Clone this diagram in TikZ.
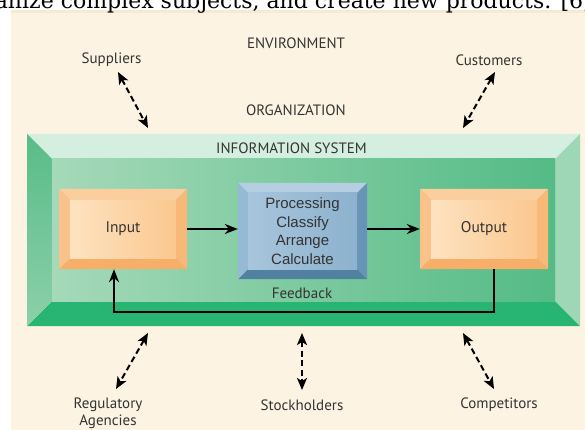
\documentclass[tikz,border=0pt]{standalone}
\usepackage{fontspec}
\setmainfont{PT Sans}
\newfontfamily\arialf{Liberation Sans}
\newfontfamily\serff{DejaVu Serif}
\usetikzlibrary{arrows.meta}
\definecolor{cream}{HTML}{FCF3E3}
\definecolor{creamband}{HTML}{FAE9D2}
\definecolor{txt}{HTML}{333333}
\tikzset{
  gT/.style={fill={rgb,255:red,212;green,238;blue,223}},
  gB/.style={fill={rgb,255:red,40;green,180;blue,114}},
  gL/.style={top color={rgb,255:red,88;green,188;blue,136},bottom color={rgb,255:red,140;green,208;blue,170}},
  gR/.style={fill={rgb,255:red,158;green,215;blue,182}},
  gF/.style={left color={rgb,255:red,165;green,217;blue,185},right color={rgb,255:red,84;green,187;blue,134}},
  oT/.style={fill={rgb,255:red,251;green,206;blue,158}},
  oB/.style={fill={rgb,255:red,246;green,174;blue,104}},
  oL/.style={fill={rgb,255:red,249;green,194;blue,138}},
  oR/.style={fill={rgb,255:red,247;green,184;blue,120}},
  oF/.style={left color={rgb,255:red,253;green,226;blue,192},right color={rgb,255:red,251;green,200;blue,143}},
  bT/.style={fill={rgb,255:red,182;green,206;blue,225}},
  bB/.style={fill={rgb,255:red,82;green,128;blue,160}},
  bL/.style={fill={rgb,255:red,150;green,185;blue,212}},
  bR/.style={fill={rgb,255:red,104;green,148;blue,184}},
  bF/.style={left color={rgb,255:red,168;green,197;blue,220},right color={rgb,255:red,140;green,178;blue,206}},
  boxnode/.style={draw=none,inner sep=0,font=\fontsize{15.5}{18}\selectfont,text=txt},
  lbl/.style={inner sep=0,font=\fontsize{15}{17}\selectfont,text=txt,align=center},
  conn/.style={line width=2.2pt,-{Stealth[length=13pt,width=10pt]}},
  dconn/.style={line width=2pt,dash pattern=on 6pt off 3.5pt,{Stealth[length=12pt,width=10pt,inset=3pt]}-{Stealth[length=12pt,width=10pt,inset=3pt]}}
}
\newcommand{\bevelbox}[6]{%
  \path[#6T] (#1,#2) -- (#3,#2) -- ({#3-#5},{#2+#5}) -- ({#1+#5},{#2+#5}) -- cycle;
  \path[#6B] (#1,#4) -- (#3,#4) -- ({#3-#5},{#4-#5}) -- ({#1+#5},{#4-#5}) -- cycle;
  \path[#6L] (#1,#2) -- ({#1+#5},{#2+#5}) -- ({#1+#5},{#4-#5}) -- (#1,#4) -- cycle;
  \path[#6R] (#3,#2) -- ({#3-#5},{#2+#5}) -- ({#3-#5},{#4-#5}) -- (#3,#4) -- cycle;
  \path[#6F] ({#1+#5},{#2+#5}) rectangle ({#3-#5},{#4-#5});
}
\begin{document}
\begin{tikzpicture}[x=1pt,y=-1pt]
\useasboundingbox (0,0) rectangle (585,430);
\begin{scope}
  \clip (0,0) rectangle (585,430);
  \fill[white] (0,0) rectangle (585,430);
  \fill[cream] (11,10) rectangle (585,430);
  \fill[creamband] (11,10) rectangle (585,13);
  \node[anchor=base east,inner sep=0,font=\serff\fontsize{22}{26}\selectfont] (snip) at (592,8.5) {anize complex subjects, and create new products. [6]};
\end{scope}

% frame and boxes
\bevelbox{27}{134}{580}{326}{25}{g}
\bevelbox{59}{189}{187}{269}{11}{o}
\bevelbox{238}{183}{367}{279}{10}{b}
\bevelbox{420}{189}{548}{269}{11}{o}

\node[boxnode,minimum width=128,minimum height=80] (in) at (123,229) {Input};
\node[boxnode,minimum width=129,minimum height=96,align=center,font=\arialf\fontsize{15}{18.5}\selectfont] (proc) at (302.5,231) {Processing\\Classify\\Arrange\\Calculate};
\node[boxnode,minimum width=128,minimum height=80] (out) at (484,229) {Output};

\node[lbl] (is) at (291.5,148) {INFORMATION SYSTEM};
\node[lbl] (fb) at (302,293) {Feedback};
\node[lbl] (env) at (296,43) {ENVIRONMENT};
\node[lbl] (org) at (296,110) {ORGANIZATION};
\node[lbl] (sup) at (111.5,60) {Suppliers};
\node[lbl] (cus) at (489,60) {Customers};
\node[lbl] (reg) at (108,413.5) {Regulatory\\Agencies};
\node[lbl] (sto) at (302,405) {Stockholders};
\node[lbl] (com) at (499,405) {Competitors};

% connectors
\draw[conn] (in.east) -- (in.east -| proc.west);
\draw[conn] (proc.east |- out.west) -- (out.west);
\draw[conn] ([xshift=10pt]out.south) -- ++(0,43) -| ([xshift=-9pt]in.south);

\coordinate (supA) at (118,72);  \coordinate (supB) at (148,128);
\coordinate (cusA) at (495,72);  \coordinate (cusB) at (463,128);
\coordinate (regA) at (148,333); \coordinate (regB) at (116,389);
\coordinate (stoA) at (302,333); \coordinate (stoB) at (302,390);
\coordinate (comA) at (463,333); \coordinate (comB) at (494,389);
\draw[dconn] (supA) -- (supB);
\draw[dconn] (cusA) -- (cusB);
\draw[dconn] (regA) -- (regB);
\draw[dconn] (stoA) -- (stoB);
\draw[dconn] (comA) -- (comB);
\end{tikzpicture}
\end{document}
